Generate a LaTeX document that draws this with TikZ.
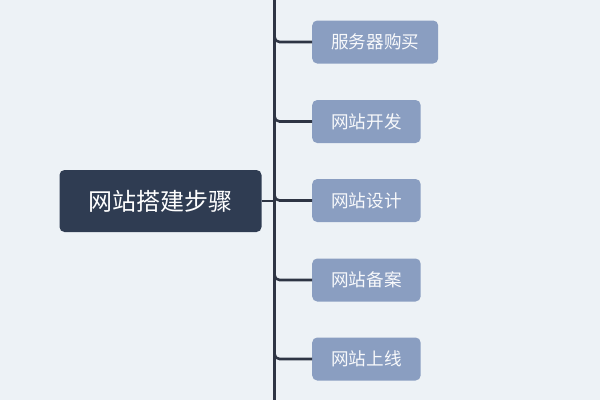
\documentclass[tikz,border=0pt]{standalone}
\usepackage{fontspec}
\setmainfont{Noto Sans CJK SC}
\usetikzlibrary{positioning}

\definecolor{bgcol}{HTML}{EDF2F6}
\definecolor{rootcol}{HTML}{2F3C52}
\definecolor{leafcol}{HTML}{8A9EC1}
\definecolor{linecol}{HTML}{2E3544}

\tikzset{
  rootbox/.style={fill=rootcol, text=white, rounded corners=5pt,
    minimum width=202pt, minimum height=62pt, font=\fontsize{24}{28}\selectfont},
  leafbox/.style={fill=leafcol, text=white!94!leafcol, rounded corners=5pt,
    inner xsep=19pt, minimum height=43pt, anchor=west,
    font=\fontsize{17.6}{20}\selectfont},
  trunk/.style={linecol, line width=2.6pt},
}

\begin{document}
\begin{tikzpicture}[x=1pt, y=-1pt]
  % Background
  \fill[bgcol] (0,0) rectangle (600,400);
  \useasboundingbox (0,0) rectangle (600,400);

  % Root
  \node[rootbox] (root) at (160.5,201) {网站搭建步骤};

  % Trunk
  \coordinate (top) at (274.5,0);
  \coordinate (bottom) at (274.5,400);
  \draw[trunk] (top) -- (bottom);
  \draw[trunk] (root.east) -- (root.east -| top);

  % Steps
  \foreach \name/\y/\txt in {s1/42/服务器购买, s2/121.5/网站开发, s3/200.5/网站设计,
                              s4/280/网站备案, s5/359/网站上线} {
    \node[leafbox] (\name) at (312,\y) {\txt};
    \draw[trunk, rounded corners=5pt]
      ([yshift=9pt]\name.west -| top) -- (\name.west -| top) -- (\name.west);
  }
\end{tikzpicture}
\end{document}
